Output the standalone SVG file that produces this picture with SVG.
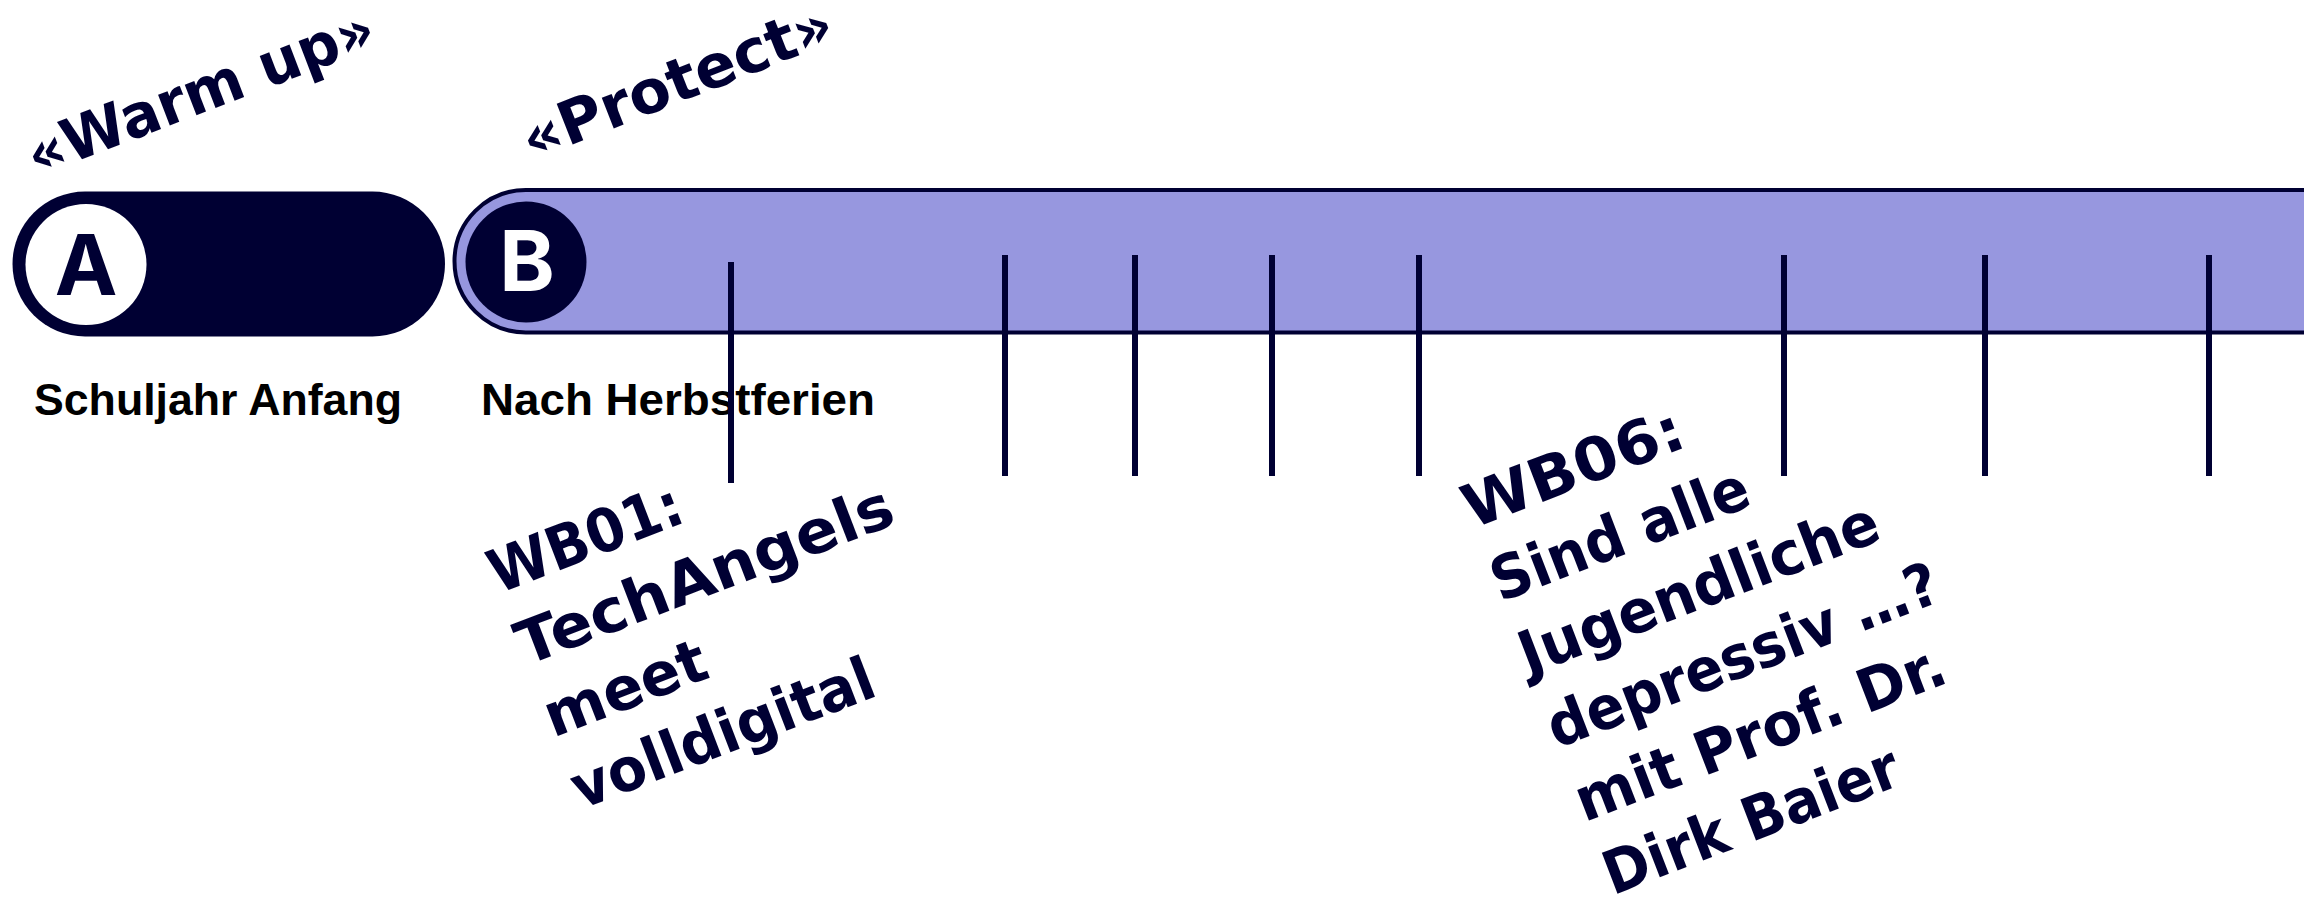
<svg xmlns="http://www.w3.org/2000/svg" width="2304" height="908" viewBox="0 0 2304 908">
  <style>
    .dark { fill: #000033; }
    .purple { fill: #9797df; stroke: #000033; stroke-width: 4; }
    .letter { font-family: Inter, "DejaVu Sans", sans-serif; font-weight: 700; font-size: 84px; text-anchor: middle; }
    .label { font-family: "Liberation Sans", Arial, sans-serif; font-weight: 700; font-size: 44px; fill: #000000; }
    .rot { font-family: "DejaVu Sans", "Noto Sans", sans-serif; font-weight: 700; font-size: 60px; fill: #000033; }
    .tick { stroke: #000033; stroke-width: 6; fill: none; }
  </style>

  <g id="phase-A">
    <rect class="dark" x="12.5" y="191.5" width="432.5" height="145" rx="72.5" ry="72.5"/>
    <circle cx="86" cy="264.5" r="60.5" fill="#ffffff"/>
    <text class="letter" x="86" y="295" fill="#000033">A</text>
  </g>

  <g id="phase-B">
    <rect class="purple" x="454.5" y="190" width="1950" height="142.5" rx="71.25" ry="71.25"/>
    <circle cx="526" cy="262" r="60.5" fill="#000033"/>
    <text class="letter" x="527" y="291" fill="#ffffff">B</text>
  </g>

  <g id="labels">
    <text class="label" x="34" y="415" textLength="368" lengthAdjust="spacingAndGlyphs">Schuljahr Anfang</text>
    <text class="label" x="481" y="415" textLength="394" lengthAdjust="spacingAndGlyphs">Nach Herbstferien</text>
  </g>

  <g id="connectors">
    <line class="tick" x1="731" y1="262" x2="731" y2="483"/>
    <line class="tick" x1="1005" y1="255" x2="1005" y2="476"/>
    <line class="tick" x1="1135" y1="255" x2="1135" y2="476"/>
    <line class="tick" x1="1272" y1="255" x2="1272" y2="476"/>
    <line class="tick" x1="1419" y1="255" x2="1419" y2="476"/>
    <line class="tick" x1="1784" y1="255" x2="1784" y2="476"/>
    <line class="tick" x1="1985" y1="255" x2="1985" y2="476"/>
    <line class="tick" x1="2209" y1="255" x2="2209" y2="476"/>
  </g>

  <g id="title-warmup" transform="translate(36,177) rotate(-21)">
    <text class="rot" x="0" y="0" textLength="368" lengthAdjust="spacingAndGlyphs">«Warm up»</text>
  </g>

  <g id="title-protect" transform="translate(531,161) rotate(-21.5)">
    <text class="rot" x="0" y="0" textLength="330" lengthAdjust="spacingAndGlyphs">«Protect»</text>
  </g>

  <g id="event-WB01" transform="translate(498,594) rotate(-21)">
    <text class="rot" x="0" y="0" textLength="203" lengthAdjust="spacingAndGlyphs">WB01:</text>
    <text class="rot" x="0" y="77" textLength="399" lengthAdjust="spacingAndGlyphs">TechAngels</text>
    <text class="rot" x="0" y="154" textLength="170" lengthAdjust="spacingAndGlyphs">meet</text>
    <text class="rot" x="0" y="231" textLength="320" lengthAdjust="spacingAndGlyphs">volldigital</text>
  </g>

  <g id="event-WB06" transform="translate(1472,529) rotate(-21)">
    <text class="rot" x="0" y="0" textLength="232" lengthAdjust="spacingAndGlyphs">WB06:</text>
    <text class="rot" x="0" y="78.5" textLength="272" lengthAdjust="spacingAndGlyphs">Sind alle</text>
    <text class="rot" x="0" y="157" textLength="381" lengthAdjust="spacingAndGlyphs">Jugendliche</text>
    <text class="rot" x="0" y="235.5" textLength="415" lengthAdjust="spacingAndGlyphs">depressiv …?</text>
    <text class="rot" x="0" y="314" textLength="392" lengthAdjust="spacingAndGlyphs">mit Prof. Dr.</text>
    <text class="rot" x="0" y="392.5" textLength="312" lengthAdjust="spacingAndGlyphs">Dirk Baier</text>
  </g>
</svg>
